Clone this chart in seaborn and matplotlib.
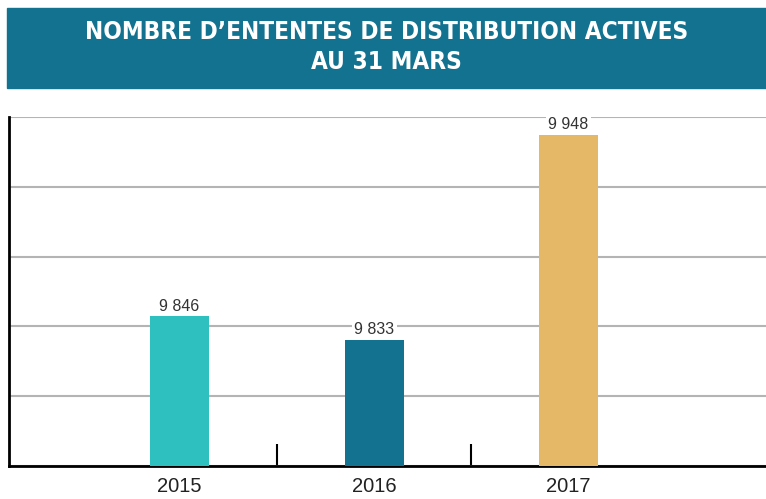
import matplotlib
matplotlib.use("Agg")
import matplotlib.pyplot as plt
import matplotlib.patches as mpatches
import seaborn as sns
import numpy as np
import pandas as pd

years = ["2015", "2016", "2017"]
values = [9846, 9833, 9948]
labels = ["9 846", "9 833", "9 948"]
colors = ["#2ebfbf", "#12728f", "#e4b866"]
title_lines = ["NOMBRE D\u2019ENTENTES DE DISTRIBUTION ACTIVES", "AU 31 MARS"]

sns.set_theme(style="white")
plt.rcParams['font.family'] = ['Liberation Sans', 'DejaVu Sans']

W, H = 766, 499
fig = plt.figure(figsize=(W / 100, H / 100), dpi=100)

# banner
fig.patches.append(mpatches.Rectangle((7 / W, 1 - 88 / H), (W - 7) / W, 80 / H,
                                      transform=fig.transFigure, color="#12728f", zorder=0))
for k, line in enumerate(title_lines):
    fig.text(0.5 * (7 + W) / W, 1 - (32 + 30 * k) / H, line, ha="center", va="center",
             color="white", fontsize=17.5, fontweight="bold", fontstretch="condensed",
             family=['DejaVu Sans'])

ax = fig.add_axes([9 / W, 33 / H, (W - 9) / W, 349 / H])
df = pd.DataFrame({"year": years, "value": values})
sns.barplot(data=df, x="year", y="value", hue="year", palette=colors, legend=False,
            width=0.303, ax=ax, zorder=3, saturation=1, linewidth=0)

ymin, ymax = 9762, 9958
ax.set_ylim(ymin, ymax)
ax.set_xlim(-0.877, 3.015)
ax.set_yticks(np.linspace(ymin, ymax, 6))
ax.set_yticklabels([])
ax.tick_params(axis="y", length=0)
ax.grid(axis="y", color="#b4b4b4", linewidth=1.5, zorder=0)
ax.set_axisbelow(True)
ax.set_xlabel("")
ax.set_ylabel("")
ax.tick_params(axis="x", which="major", length=0, labelsize=14.5, pad=8, colors="#222222")
ax.set_xticks([0.5, 1.5], minor=True)
ax.tick_params(axis="x", which="minor", bottom=True, direction="in", length=16, width=1.5,
               color="black")
for s in ["top", "right"]:
    ax.spines[s].set_visible(False)
for s in ["left", "bottom"]:
    ax.spines[s].set_color("black")
    ax.spines[s].set_linewidth(2)

for i, (v, lab) in enumerate(zip(values, labels)):
    ax.annotate(lab, (i, v), xytext=(0, 2), textcoords="offset points", ha="center",
                va="bottom", fontsize=11.5, color="#333333", zorder=5,
                bbox=dict(boxstyle="square,pad=0.15", fc="white", ec="none"))

fig.savefig("out.png", dpi=100)
